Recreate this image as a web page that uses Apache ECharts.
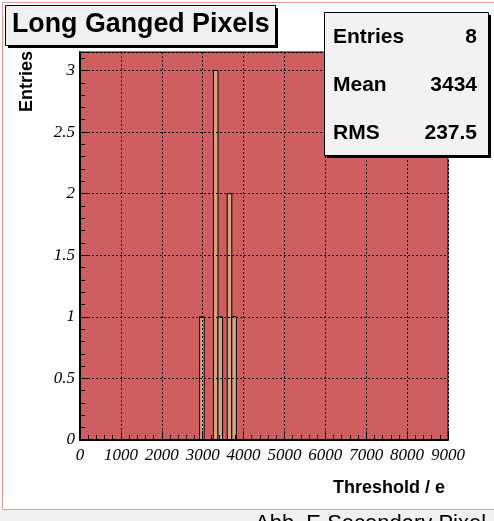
<!DOCTYPE html>
<html>
<head>
<meta charset="utf-8">
<script src="https://cdn.jsdelivr.net/npm/echarts@6/dist/echarts.min.js"></script>
<style>
  html, body { margin: 0; padding: 0; background: #ffffff; }
  #chart { width: 494px; height: 521px; }
</style>
</head>
<body>
<div id="chart"></div>
<script>
// Histogram of long ganged pixel thresholds (electrons)
const binWidth = 112.5;
const binStarts = [2925, 3262.5, 3375, 3600, 3712.5];
const binCounts = [1, 3, 1, 2, 1];

const xTicks = [0, 1000, 2000, 3000, 4000, 5000, 6000, 7000, 8000, 9000];
const yTicks = [0, 0.5, 1, 1.5, 2, 2.5, 3];

const statNames = ['Entries', 'Mean', 'RMS'];
const statValues = ['8', '3434', '237.5'];

const titleText = 'Long Ganged Pixels';
const xTitle = 'Threshold / e';
const yTitle = 'Entries';
const captionText = 'Abb. E Secondary Pixel';

const histData = binStarts.map((s, i) => [s, s + binWidth, binCounts[i]]);

const chart = echarts.init(document.getElementById('chart'), null, { renderer: 'canvas' });

const sans = '"Liberation Sans", Arial, Helvetica, sans-serif';
const serifFamily = 'Liberation Serif';

const statGraphics = [];
statNames.forEach((name, i) => {
  const cy = 39 + i * 48;
  statGraphics.push({
    type: 'text', left: 333, top: cy - 12, z: 12,
    style: { text: name, font: 'bold 21px ' + sans, fill: '#000' }
  });
  statGraphics.push({
    type: 'text', right: 17, top: cy - 12, z: 12,
    style: { text: statValues[i], font: 'bold 21px ' + sans, fill: '#000', textAlign: 'right' }
  });
});

const labelStyle = {
  color: '#000', fontFamily: serifFamily, fontStyle: 'italic', fontSize: 17
};

chart.setOption({
  animation: false,
  backgroundColor: '#ffffff',
  grid: {
    left: 80, top: 52, right: 46, bottom: 81,
    show: true, backgroundColor: '#cf5e61',
    borderColor: '#000', borderWidth: 1
  },
  xAxis: {
    type: 'value', min: xTicks[0], max: xTicks[xTicks.length - 1], interval: 1000,
    z: 5,
    axisLine: { show: true, onZero: false, lineStyle: { color: '#000', width: 2 } },
    axisTick: { show: true, inside: true, length: 9, lineStyle: { color: '#000' } },
    minorTick: { show: true, splitNumber: 5, length: 5, lineStyle: { color: '#000' } },
    splitLine: { show: true, lineStyle: { color: '#000', type: [2, 2], width: 1 } },
    axisLabel: Object.assign({
      margin: 7, showMaxLabel: true, hideOverlap: false,
      formatter: v => String(v)
    }, labelStyle)
  },
  yAxis: {
    type: 'value', min: yTicks[0], max: 3.15, interval: 0.5,
    z: 5,
    axisLine: { show: true, onZero: false, lineStyle: { color: '#000', width: 2 } },
    axisTick: { show: true, inside: true, length: 9, lineStyle: { color: '#000' } },
    minorTick: { show: true, splitNumber: 5, length: 5, lineStyle: { color: '#000' } },
    splitLine: { show: true, lineStyle: { color: '#000', type: [2, 2], width: 1 } },
    axisLabel: Object.assign({
      margin: 5, showMaxLabel: false,
      formatter: v => (yTicks.indexOf(v) >= 0 ? String(v) : '')
    }, labelStyle)
  },
  series: [{
    type: 'custom',
    z: 2,
    data: histData,
    encode: { x: [0, 1], y: 2 },
    renderItem: function (params, api) {
      const lo = api.coord([api.value(0), 0]);
      const hi = api.coord([api.value(1), api.value(2)]);
      return {
        type: 'rect',
        shape: { x: lo[0], y: hi[1], width: hi[0] - lo[0], height: lo[1] - hi[1] },
        style: { fill: '#d6a380', stroke: '#000', lineWidth: 1 }
      };
    }
  }],
  graphic: [
    // pad frame
    { type: 'rect', left: 2, top: 2, z: -1, silent: true,
      shape: { width: 500, height: 507 },
      style: { fill: '#ffffff', stroke: '#e89a9a', lineWidth: 1 } },
    // caption strip below the pad
    { type: 'rect', left: 0, top: 510, z: -1,
      shape: { width: 494, height: 11 }, style: { fill: '#f0f0f0' } },
    { type: 'text', left: 255, top: 513, z: 1,
      style: { text: captionText, font: '22px ' + sans, fill: '#000' } },
    // title box with shadow
    { type: 'rect', left: 8, top: 8, z: 10, shape: { width: 270, height: 40 }, style: { fill: '#000' } },
    { type: 'rect', left: 5, top: 5, z: 11, shape: { width: 270, height: 40 },
      style: { fill: '#f0f0f0', stroke: '#000', lineWidth: 1 } },
    { type: 'text', left: 12, top: 11, z: 12,
      style: { text: titleText, font: 'bold 26.8px ' + sans, fill: '#000' } },
    // statistics box with shadow
    { type: 'rect', left: 327, top: 15, z: 10, shape: { width: 164, height: 143 }, style: { fill: '#000' } },
    { type: 'rect', left: 324, top: 12, z: 11, shape: { width: 164, height: 143 },
      style: { fill: '#f2f2f2', stroke: '#000', lineWidth: 1 } },
    ...statGraphics,
    // axis titles
    { type: 'text', left: 333, top: 479, z: 12,
      style: { text: xTitle, font: 'bold 18px ' + sans, fill: '#000' } },
    { type: 'text', x: 18, y: 112, rotation: Math.PI / 2, z: 12,
      style: { text: yTitle, font: 'bold 18px ' + sans, fill: '#000' } }
  ]
});
</script>
</body>
</html>
